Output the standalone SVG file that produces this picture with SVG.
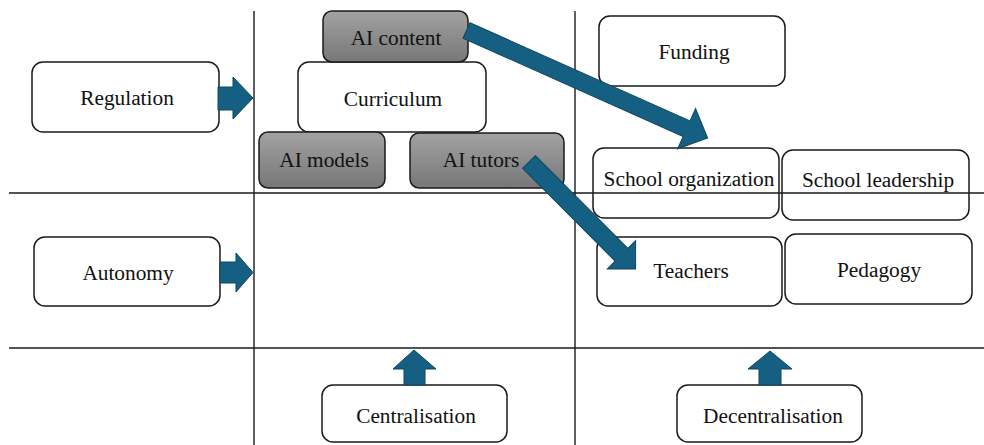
<svg xmlns="http://www.w3.org/2000/svg" width="984" height="445" viewBox="0 0 984 445">
  <defs>
    <linearGradient id="grayFill" x1="0" y1="0" x2="0" y2="1">
      <stop offset="0" stop-color="#a2a2a2"/>
      <stop offset="1" stop-color="#777777"/>
    </linearGradient>
    <style>
      .box { fill: #ffffff; stroke: #1a1a1a; stroke-width: 1.5; }
      .ai { fill: url(#grayFill); stroke: #1a1a1a; stroke-width: 1.5; }
      .grid { stroke: #1a1a1a; stroke-width: 1.4; fill: none; }
      .arrow { fill: #156082; stroke: #0e4660; stroke-width: 1; stroke-linejoin: miter; }
      text { font-family: "Liberation Serif", "Times New Roman", serif; font-size: 21.33px; fill: #111111; text-anchor: middle; }
    </style>
  </defs>

  <rect width="984" height="445" fill="#ffffff"/>

  <!-- nodes -->
  <g id="regulation">
    <rect class="box" x="32" y="62" width="187" height="70" rx="11"/>
    <text x="127" y="105">Regulation</text>
  </g>
  <g id="autonomy">
    <rect class="box" x="34" y="237" width="186" height="69" rx="11"/>
    <text x="128" y="280">Autonomy</text>
  </g>
  <g id="curriculum">
    <rect class="box" x="298" y="62" width="188" height="70" rx="11"/>
    <text x="393" y="106">Curriculum</text>
  </g>
  <g id="ai-content">
    <rect class="ai" x="323" y="11" width="145" height="51" rx="9"/>
    <text x="396" y="45">AI content</text>
  </g>
  <g id="ai-models">
    <rect class="ai" x="259" y="132" width="126" height="56" rx="9"/>
    <text x="324" y="167">AI models</text>
  </g>
  <g id="ai-tutors">
    <rect class="ai" x="410" y="133" width="154" height="55" rx="9"/>
    <text x="481" y="167">AI tutors</text>
  </g>
  <g id="funding">
    <rect class="box" x="599" y="16" width="186" height="70" rx="11"/>
    <text x="694" y="59">Funding</text>
  </g>
  <g id="school-organization">
    <rect class="box" x="593" y="148" width="186" height="70" rx="11"/>
    <text x="689" y="186">School organization</text>
  </g>
  <g id="school-leadership">
    <rect class="box" x="782" y="150" width="187" height="70" rx="11"/>
    <text x="878" y="187">School leadership</text>
  </g>
  <g id="teachers">
    <rect class="box" x="597" y="237" width="185" height="69" rx="11"/>
    <text x="691" y="278">Teachers</text>
  </g>
  <g id="pedagogy">
    <rect class="box" x="785" y="234" width="187" height="70" rx="11"/>
    <text x="879" y="277">Pedagogy</text>
  </g>
  <g id="centralisation">
    <rect class="box" x="322" y="385" width="185" height="57" rx="11"/>
    <text x="416" y="423">Centralisation</text>
  </g>
  <g id="decentralisation">
    <rect class="box" x="677" y="385" width="185" height="57" rx="11"/>
    <text x="773" y="423">Decentralisation</text>
  </g>

  <!-- quadrant grid lines -->
  <g id="grid">
    <line class="grid" x1="254" y1="11" x2="254" y2="445"/>
    <line class="grid" x1="575" y1="11" x2="575" y2="445"/>
    <line class="grid" x1="9" y1="193" x2="984" y2="193"/>
    <line class="grid" x1="9" y1="348" x2="984" y2="348"/>
  </g>

  <!-- connectors: block arrows -->
  <g id="connectors">
    <polygon class="arrow" points="218,87 233,87 233,77 253,98 233,119 233,110 218,110"/>
    <polygon class="arrow" points="220,262 236,262 236,253 253,272.5 236,292 236,283 220,283"/>
    <polygon class="arrow" points="404,385 404,369 393,369 414,350 436,369 425,369 425,385"/>
    <polygon class="arrow" points="759,385 759,369 748,369 770,351 792,369 781,369 781,385"/>
    <polygon class="arrow" transform="translate(466.5,30.5) rotate(24.04)" points="0,-8.5 241,-8.5 241,-22 264,0 241,22 241,8.5 0,8.5"/>
    <polygon class="arrow" transform="translate(529,162) rotate(45.1)" points="0,-9 131,-9 131,-20 151,0 131,20 131,9 0,9"/>
  </g>
</svg>
